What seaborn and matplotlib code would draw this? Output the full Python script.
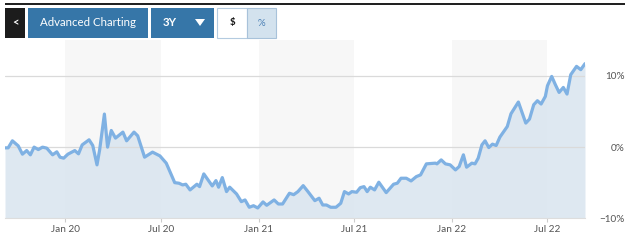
import matplotlib
matplotlib.use("Agg")
import matplotlib.pyplot as plt
from matplotlib.patches import Rectangle, Polygon
import seaborn as sns
import pandas as pd

dates = ["2019-09-09", "2019-09-15", "2019-09-23", "2019-10-04", "2019-10-12", "2019-10-20",
         "2019-10-27", "2019-11-03", "2019-11-11", "2019-11-19", "2019-11-27", "2019-12-08",
         "2019-12-16", "2019-12-22", "2019-12-29", "2020-01-06", "2020-01-19", "2020-01-26",
         "2020-02-02", "2020-02-15", "2020-02-22", "2020-03-01", "2020-03-06", "2020-03-15",
         "2020-03-21", "2020-03-28", "2020-04-05", "2020-04-19", "2020-04-26", "2020-05-10",
         "2020-05-17", "2020-05-30", "2020-06-14", "2020-06-28", "2020-07-10", "2020-07-26",
         "2020-08-03", "2020-08-10", "2020-08-16", "2020-08-24", "2020-09-06", "2020-09-11",
         "2020-09-19", "2020-10-05", "2020-10-12", "2020-10-17", "2020-10-24", "2020-11-01",
         "2020-11-07", "2020-11-20", "2020-11-29", "2020-12-06", "2020-12-14", "2020-12-22",
         "2020-12-30", "2021-01-09", "2021-01-16", "2021-01-30", "2021-02-07", "2021-02-15",
         "2021-02-28", "2021-03-08", "2021-03-16", "2021-03-26", "2021-04-04", "2021-04-17",
         "2021-04-25", "2021-05-02", "2021-05-09", "2021-05-17", "2021-05-27", "2021-06-05",
         "2021-06-12", "2021-06-20", "2021-06-26", "2021-07-05", "2021-07-12", "2021-07-19",
         "2021-07-25", "2021-07-31", "2021-08-08", "2021-08-16", "2021-08-30", "2021-09-13",
         "2021-09-20", "2021-09-27", "2021-10-07", "2021-10-16", "2021-10-26", "2021-11-03",
         "2021-11-14", "2021-12-01", "2021-12-04", "2021-12-12", "2021-12-20", "2021-12-29",
         "2022-01-08", "2022-01-15", "2022-01-23", "2022-01-29", "2022-02-08", "2022-02-14",
         "2022-02-20", "2022-02-27", "2022-03-05", "2022-03-12", "2022-03-19", "2022-03-26",
         "2022-04-02", "2022-04-16", "2022-04-23", "2022-05-07", "2022-05-21", "2022-05-28",
         "2022-06-05", "2022-06-12", "2022-06-19", "2022-06-27", "2022-07-01", "2022-07-09",
         "2022-07-16", "2022-07-23", "2022-07-31", "2022-08-07", "2022-08-14", "2022-08-25",
         "2022-09-02", "2022-09-10"]
values = [-0.1, -0.1, 0.89, 0.18, -0.99, -0.48,
          -1.08, 0.0, -0.34, 0.0, -0.14, -1.08,
          -0.66, -1.41, -1.55, -0.99, -0.48, -0.94,
          0.32, 1.03, 0.23, -2.49, -0.38, 4.65,
          0.0, 2.34, 1.27, 2.11, 0.89, 2.11,
          1.59, -1.41, -0.70, -1.23, -2.25, -4.99,
          -5.07, -5.31, -5.21, -6.01, -5.21, -5.55,
          -3.76, -5.45, -4.70, -5.63, -4.28, -6.25,
          -5.63, -6.58, -7.66, -7.42, -8.45, -8.23,
          -8.55, -7.70, -8.17, -7.42, -7.99, -7.99,
          -6.48, -6.68, -6.25, -5.41, -6.25, -7.52,
          -7.18, -8.13, -8.13, -8.45, -8.45, -7.89,
          -6.25, -6.58, -6.25, -6.34, -5.69, -5.55,
          -6.25, -5.63, -6.01, -4.93, -6.39, -5.21,
          -5.07, -4.37, -4.37, -4.75, -4.14, -3.90,
          -2.35, -2.25, -2.35, -1.79, -2.35, -2.49,
          -3.20, -2.73, -1.08, -2.82, -2.25, -2.35,
          -1.55, 0.32, 0.89, -0.06, 0.42, 0.23,
          1.41, 2.90, 4.69, 6.34, 3.38, 3.94,
          5.96, 6.52, 6.06, 7.13, 8.63, 9.94,
          8.77, 7.69, 8.39, 7.46, 10.18, 11.35,
          10.89, 11.73]

tick_dates = ["2020-01-01", "2020-07-01", "2021-01-01", "2021-07-01", "2022-01-01", "2022-07-01"]
tick_labels = ["Jan 20", "Jul 20", "Jan 21", "Jul 21", "Jan 22", "Jul 22"]
band_ranges = [("2020-01-01", "2020-07-01"), ("2021-01-01", "2021-07-01"), ("2022-01-01", "2022-07-01")]
y_ticks = [-10, 0, 10]
y_labels = ["\u221210%", "0%", "10%"]
buttons = ["Advanced Charting", "3Y", "$", "%"]

df = pd.DataFrame({"date": pd.to_datetime(dates), "value": values})

sns.set_theme(style="white")
plt.rcParams["font.family"] = ["Lato", "DejaVu Sans"]

W, H = 631, 246
fig = plt.figure(figsize=(W / 100, H / 100), dpi=100)
ax = fig.add_axes([5 / W, (H - 218.3) / H, (585 - 5) / W, (218.3 - 40.4) / H])

for s, e in band_ranges:
    ax.axvspan(pd.Timestamp(s), pd.Timestamp(e), color="#f7f7f7", zorder=0, lw=0)

ax.fill_between(df["date"], df["value"], -10, color="#dbe6f0", alpha=0.9, lw=0, zorder=1)
sns.lineplot(data=df, x="date", y="value", ax=ax, color="#7fb1e3", lw=2.3, zorder=3)

for yv in [0, 10]:
    ax.axhline(yv, color="#dadada", lw=0.9, zorder=2)

ax.set_xlim(df["date"].iloc[0], df["date"].iloc[-1])
ax.set_ylim(-10, 15)
ax.set_xlabel("")
ax.set_ylabel("")
ax.set_xticks(pd.to_datetime(tick_dates))
ax.set_xticklabels(tick_labels, fontsize=7.2, color="#555555")
ax.tick_params(axis="x", length=3, width=0.8, color="#cccccc", pad=2, bottom=True)
ax.set_yticks(y_ticks)
ax.set_yticklabels(y_labels, fontsize=7.2, color="#555555")
ax.yaxis.tick_right()
ax.tick_params(axis="y", length=0, pad=28.5)
plt.setp(ax.get_yticklabels(), ha="right")
for sp in ["top", "left", "right"]:
    ax.spines[sp].set_visible(False)
ax.spines["bottom"].set_color("#dddddd")
ax.spines["bottom"].set_linewidth(0.8)
ax.grid(False)

def fx(px):
    return px / W

def fy(py):
    return 1 - py / H

# top dark bar
fig.add_artist(Rectangle((fx(5), fy(5)), fx(620), 2 / H, transform=fig.transFigure,
                         facecolor="#222222", edgecolor="none"))
# back button
fig.add_artist(Rectangle((fx(5), fy(38)), fx(20), 30 / H, transform=fig.transFigure,
                         facecolor="#1c1c1c", edgecolor="none"))
fig.text(fx(15), fy(23), "<", color="white", fontsize=8, ha="center", va="center", weight="bold")
# Advanced Charting
fig.add_artist(Rectangle((fx(28), fy(38)), fx(120), 30 / H, transform=fig.transFigure,
                         facecolor="#3676a8", edgecolor="none"))
fig.text(fx(88), fy(23), buttons[0], color="white", fontsize=8.3, ha="center", va="center")
# 3Y
fig.add_artist(Rectangle((fx(151), fy(38)), fx(63), 30 / H, transform=fig.transFigure,
                         facecolor="#3676a8", edgecolor="none"))
fig.text(fx(170), fy(23), buttons[1], color="white", fontsize=8.3, ha="center", va="center", weight="bold")
fig.add_artist(Polygon([(fx(195), fy(19)), (fx(205), fy(19)), (fx(200), fy(26))], closed=True,
                       transform=fig.transFigure, facecolor="white", edgecolor="none"))
# $ and %
fig.add_artist(Rectangle((fx(217.5), fy(37.5)), fx(29), 29 / H, transform=fig.transFigure,
                         facecolor="white", edgecolor="#b4cbe0", lw=0.8))
fig.text(fx(232), fy(23), buttons[2], color="#111111", fontsize=7, ha="center", va="center", weight="bold")
fig.add_artist(Rectangle((fx(246.5), fy(37.5)), fx(29), 29 / H, transform=fig.transFigure,
                         facecolor="#d3e2ee", edgecolor="#a8c2da", lw=0.8))
fig.text(fx(261), fy(23), buttons[3], color="#4a7fb5", fontsize=7, ha="center", va="center")

fig.savefig("out.png", dpi=100)
